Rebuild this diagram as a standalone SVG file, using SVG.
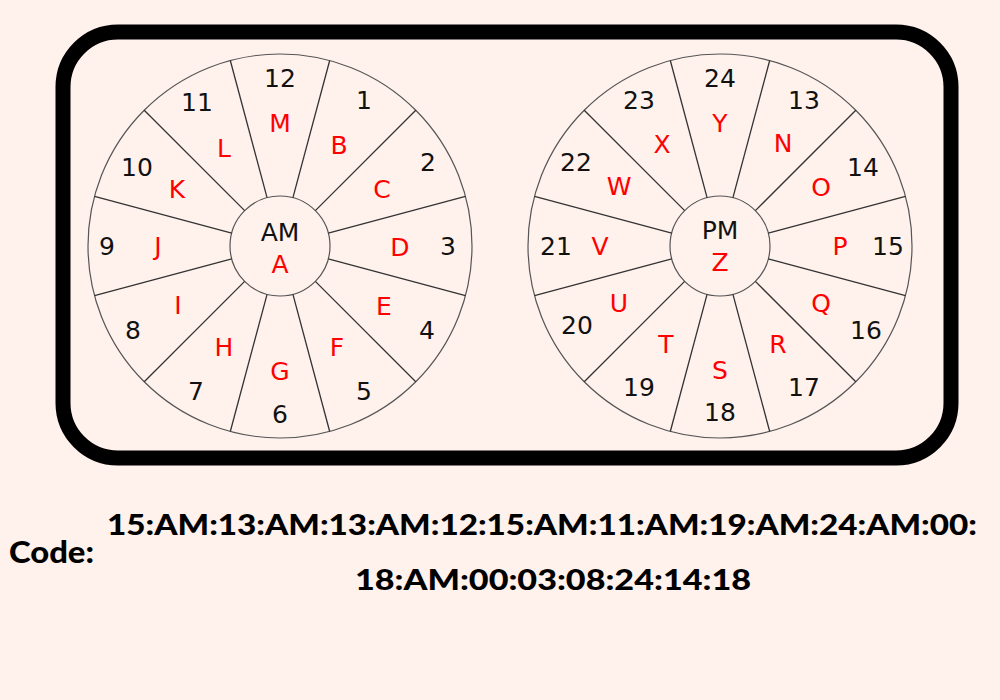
<svg xmlns="http://www.w3.org/2000/svg" xmlns:xlink="http://www.w3.org/1999/xlink" width="1000" height="700" viewBox="0 0 1000 700">
<style>
.num{font-family:"DejaVu Sans",sans-serif;font-size:25px;fill:#111;text-anchor:middle}
.let{font-family:"DejaVu Sans",sans-serif;font-size:25px;fill:#f00;text-anchor:middle}
.ring{fill:none;stroke:#555;stroke-width:1.2}
.sp{stroke:#333;stroke-width:1.3}
.code{font-family:Lato,"Liberation Sans",sans-serif;font-weight:900;fill:#000}
</style>
<defs>
<line id="spoke" class="sp" x1="0" y1="-50" x2="0" y2="-192"/>
<g id="spokes">
<use xlink:href="#spoke" transform="rotate(15)"/>
<use xlink:href="#spoke" transform="rotate(45)"/>
<use xlink:href="#spoke" transform="rotate(75)"/>
<use xlink:href="#spoke" transform="rotate(105)"/>
<use xlink:href="#spoke" transform="rotate(135)"/>
<use xlink:href="#spoke" transform="rotate(165)"/>
<use xlink:href="#spoke" transform="rotate(195)"/>
<use xlink:href="#spoke" transform="rotate(225)"/>
<use xlink:href="#spoke" transform="rotate(255)"/>
<use xlink:href="#spoke" transform="rotate(285)"/>
<use xlink:href="#spoke" transform="rotate(315)"/>
<use xlink:href="#spoke" transform="rotate(345)"/>
</g>
</defs>
<rect width="1000" height="700" fill="#FFF1EC"/>
<g id="frame">
<rect x="63" y="32" width="888" height="426" rx="55" ry="55" fill="none" stroke="#000" stroke-width="15"/>
</g>
<g id="am-wheel">
<circle class="ring" cx="280" cy="246" r="192"/>
<circle class="ring" cx="280" cy="246" r="50"/>
<use xlink:href="#spokes" transform="translate(280,246)"/>
<text class="num" x="280" y="241">AM</text>
<text class="let" x="280" y="273">A</text>
<text class="num" x="280" y="87">12</text>
<text class="num" x="364" y="109">1</text>
<text class="num" x="428" y="171">2</text>
<text class="num" x="448" y="255">3</text>
<text class="num" x="427" y="339">4</text>
<text class="num" x="364" y="400">5</text>
<text class="num" x="280" y="423">6</text>
<text class="num" x="196" y="400">7</text>
<text class="num" x="133" y="339">8</text>
<text class="num" x="107" y="255">9</text>
<text class="num" x="137" y="176">10</text>
<text class="num" x="197" y="111">11</text>
<text class="let" x="280" y="132">M</text>
<text class="let" x="339" y="154">B</text>
<text class="let" x="382" y="198">C</text>
<text class="let" x="400" y="256">D</text>
<text class="let" x="384" y="315">E</text>
<text class="let" x="337" y="356">F</text>
<text class="let" x="280" y="380">G</text>
<text class="let" x="224" y="356">H</text>
<text class="let" x="178" y="314">I</text>
<text class="let" x="158" y="255">J</text>
<text class="let" x="177" y="198">K</text>
<text class="let" x="224" y="157">L</text>
</g>
<g id="pm-wheel">
<circle class="ring" cx="720" cy="246" r="192"/>
<circle class="ring" cx="720" cy="246" r="50"/>
<use xlink:href="#spokes" transform="translate(720,246)"/>
<text class="num" x="720" y="239">PM</text>
<text class="let" x="720" y="271">Z</text>
<text class="num" x="720" y="87">24</text>
<text class="num" x="804" y="109">13</text>
<text class="num" x="863" y="176">14</text>
<text class="num" x="888" y="255">15</text>
<text class="num" x="866" y="339">16</text>
<text class="num" x="804" y="396">17</text>
<text class="num" x="720" y="421">18</text>
<text class="num" x="639" y="396">19</text>
<text class="num" x="577" y="334">20</text>
<text class="num" x="556" y="255">21</text>
<text class="num" x="576" y="171">22</text>
<text class="num" x="639" y="109">23</text>
<text class="let" x="720" y="132">Y</text>
<text class="let" x="783" y="152">N</text>
<text class="let" x="821" y="196">O</text>
<text class="let" x="840" y="255">P</text>
<text class="let" x="821" y="312">Q</text>
<text class="let" x="778" y="353">R</text>
<text class="let" x="720" y="379">S</text>
<text class="let" x="666" y="353">T</text>
<text class="let" x="619" y="312">U</text>
<text class="let" x="600" y="255">V</text>
<text class="let" x="619" y="195">W</text>
<text class="let" x="662" y="153">X</text>
</g>
<g id="code">
<text class="code" x="9" y="563" font-size="31" textLength="85" lengthAdjust="spacingAndGlyphs">Code:</text>
<text class="code" x="107" y="535" font-size="28" textLength="870" lengthAdjust="spacingAndGlyphs">15:AM:13:AM:13:AM:12:15:AM:11:AM:19:AM:24:AM:00:</text>
<text class="code" x="355" y="590" font-size="28" textLength="396" lengthAdjust="spacingAndGlyphs">18:AM:00:03:08:24:14:18</text>
</g>
</svg>
